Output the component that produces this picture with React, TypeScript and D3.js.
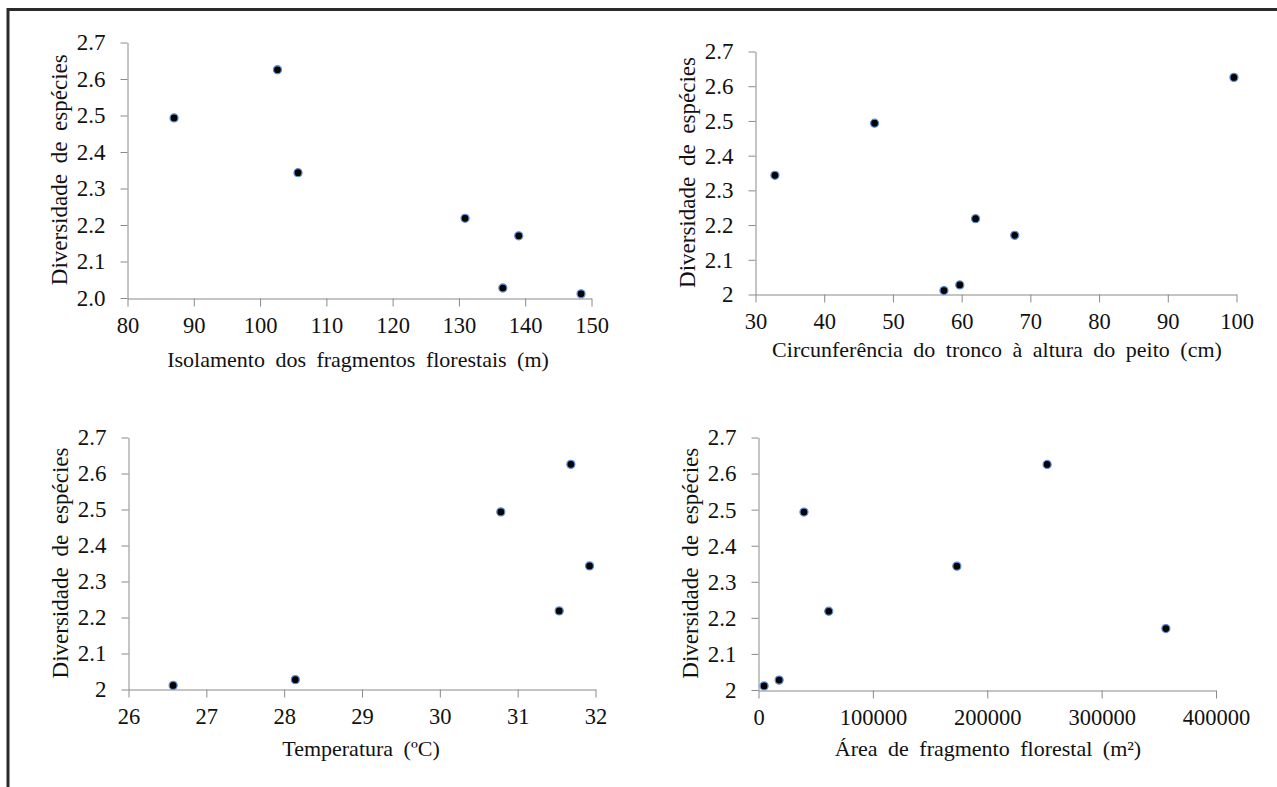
import React, { useEffect, useRef } from 'react';
import * as d3 from 'd3';

// diversidade de espécies por fragmento (mesma ordem em todas as listas)
const diversidade = [2.492, 2.624, 2.342, 2.217, 2.169, 2.026, 2.01];
const isolamento = [87.1, 102.7, 105.8, 131.0, 139.1, 136.7, 148.5];
const circunferencia = [47.4, 99.7, 32.9, 62.1, 67.8, 59.8, 57.5];
const temperatura = [30.79, 31.69, 31.93, 31.54, null, 28.15, 26.58];
const area = [40178, 252800, 173867, 61867, 356622, 18489, 5333];

const yTicks = [2.0, 2.1, 2.2, 2.3, 2.4, 2.5, 2.6, 2.7];
const isolTicks = [80, 90, 100, 110, 120, 130, 140, 150];
const circTicks = [30, 40, 50, 60, 70, 80, 90, 100];
const tempTicks = [26, 27, 28, 29, 30, 31, 32];
const areaTicks = [0, 100000, 200000, 300000, 400000];

const yTitle = 'Diversidade de espécies';
const FONT = '"Liberation Serif", "Times New Roman", Times, serif';

const panels = [
  { xs: isolamento, ticks: isolTicks, title: 'Isolamento dos fragmentos florestais (m)', yFmt: (d: number) => d.toFixed(1),
    box: { l: 127, r: 591, t: 42, b: 297.5 }, titleY: 367, titleX: 358 },
  { xs: circunferencia, ticks: circTicks, title: 'Circunferência do tronco à altura do peito (cm)', yFmt: (d: number) => String(+d.toFixed(1)),
    box: { l: 755, r: 1236, t: 51, b: 294 }, titleY: 357, titleX: 997 },
  { xs: temperatura, ticks: tempTicks, title: 'Temperatura (ºC)', yFmt: (d: number) => String(+d.toFixed(1)),
    box: { l: 128, r: 595, t: 437, b: 689 }, titleY: 756, titleX: 361 },
  { xs: area, ticks: areaTicks, title: 'Área de fragmento florestal (m²)', yFmt: (d: number) => String(+d.toFixed(1)),
    box: { l: 758, r: 1215.5, t: 437, b: 689.5 }, titleY: 756, titleX: 988 },
];

export default function App() {
  const svgRef = useRef<SVGSVGElement>(null);

  useEffect(() => {
    const svg = d3.select(svgRef.current);
    svg.selectAll('*').remove();
    svg.append('rect').attr('width', 1277).attr('height', 787).attr('fill', '#fff');

    // moldura
    svg.append('path')
      .attr('d', 'M8,1290 V9.5 H1290')
      .attr('fill', 'none')
      .attr('stroke', '#2b2b2b')
      .attr('stroke-width', 3);

    panels.forEach((p) => {
      const { l, r, t, b } = p.box;
      const x = d3.scaleLinear().domain([p.ticks[0], p.ticks[p.ticks.length - 1]]).range([l, r]);
      const y = d3.scaleLinear().domain([2.0, 2.7]).range([b, t]);
      const g = svg.append('g');

      const xAxis = d3.axisBottom(x).tickValues(p.ticks).tickSize(8).tickSizeOuter(0).tickPadding(11)
        .tickFormat((d) => String(d));
      const yAxis = d3.axisLeft(y).tickValues(yTicks).tickSize(7).tickSizeOuter(0).tickPadding(15)
        .tickFormat((d) => p.yFmt(+d));

      const gx = g.append('g').attr('transform', `translate(0.5,${Math.round(b) + 0.5})`).call(xAxis);
      const gy = g.append('g').attr('transform', `translate(${Math.round(l) + 0.5},0.5)`).call(yAxis);

      [gx, gy].forEach((ax, i) => {
        ax.attr('font-family', FONT).attr('font-size', i === 0 ? 22.5 : 23);
        ax.select('.domain').attr('stroke', '#8a8a8a');
        ax.selectAll('.tick line').attr('stroke', '#8a8a8a');
        ax.selectAll('.tick text').attr('fill', '#111');
      });

      g.append('text')
        .attr('transform', `translate(${l - 60},${(t + b) / 2}) rotate(-90)`)
        .attr('text-anchor', 'middle')
        .attr('fill', '#111')
        .attr('font-family', FONT)
        .attr('font-size', 23)
        .attr('word-spacing', 5)
        .text(yTitle);

      g.append('text')
        .attr('x', p.titleX)
        .attr('y', p.titleY)
        .attr('text-anchor', 'middle')
        .attr('fill', '#111')
        .attr('font-family', FONT)
        .attr('font-size', 22)
        .attr('word-spacing', 5)
        .text(p.title);

      const pts = p.xs
        .map((v, i) => ({ x: v, y: diversidade[i] }))
        .filter((d) => d.x !== null);

      g.selectAll('circle')
        .data(pts)
        .enter()
        .append('circle')
        .attr('cx', (d) => x(d.x as number))
        .attr('cy', (d) => y(d.y))
        .attr('r', 4)
        .attr('fill', '#000')
        .attr('stroke', '#5a8ed6')
        .attr('stroke-width', 1.3);
    });
  }, []);

  return (
    <svg ref={svgRef} width={1277} height={787} style={{ position: 'absolute', left: 0, top: 0 }} />
  );
}
